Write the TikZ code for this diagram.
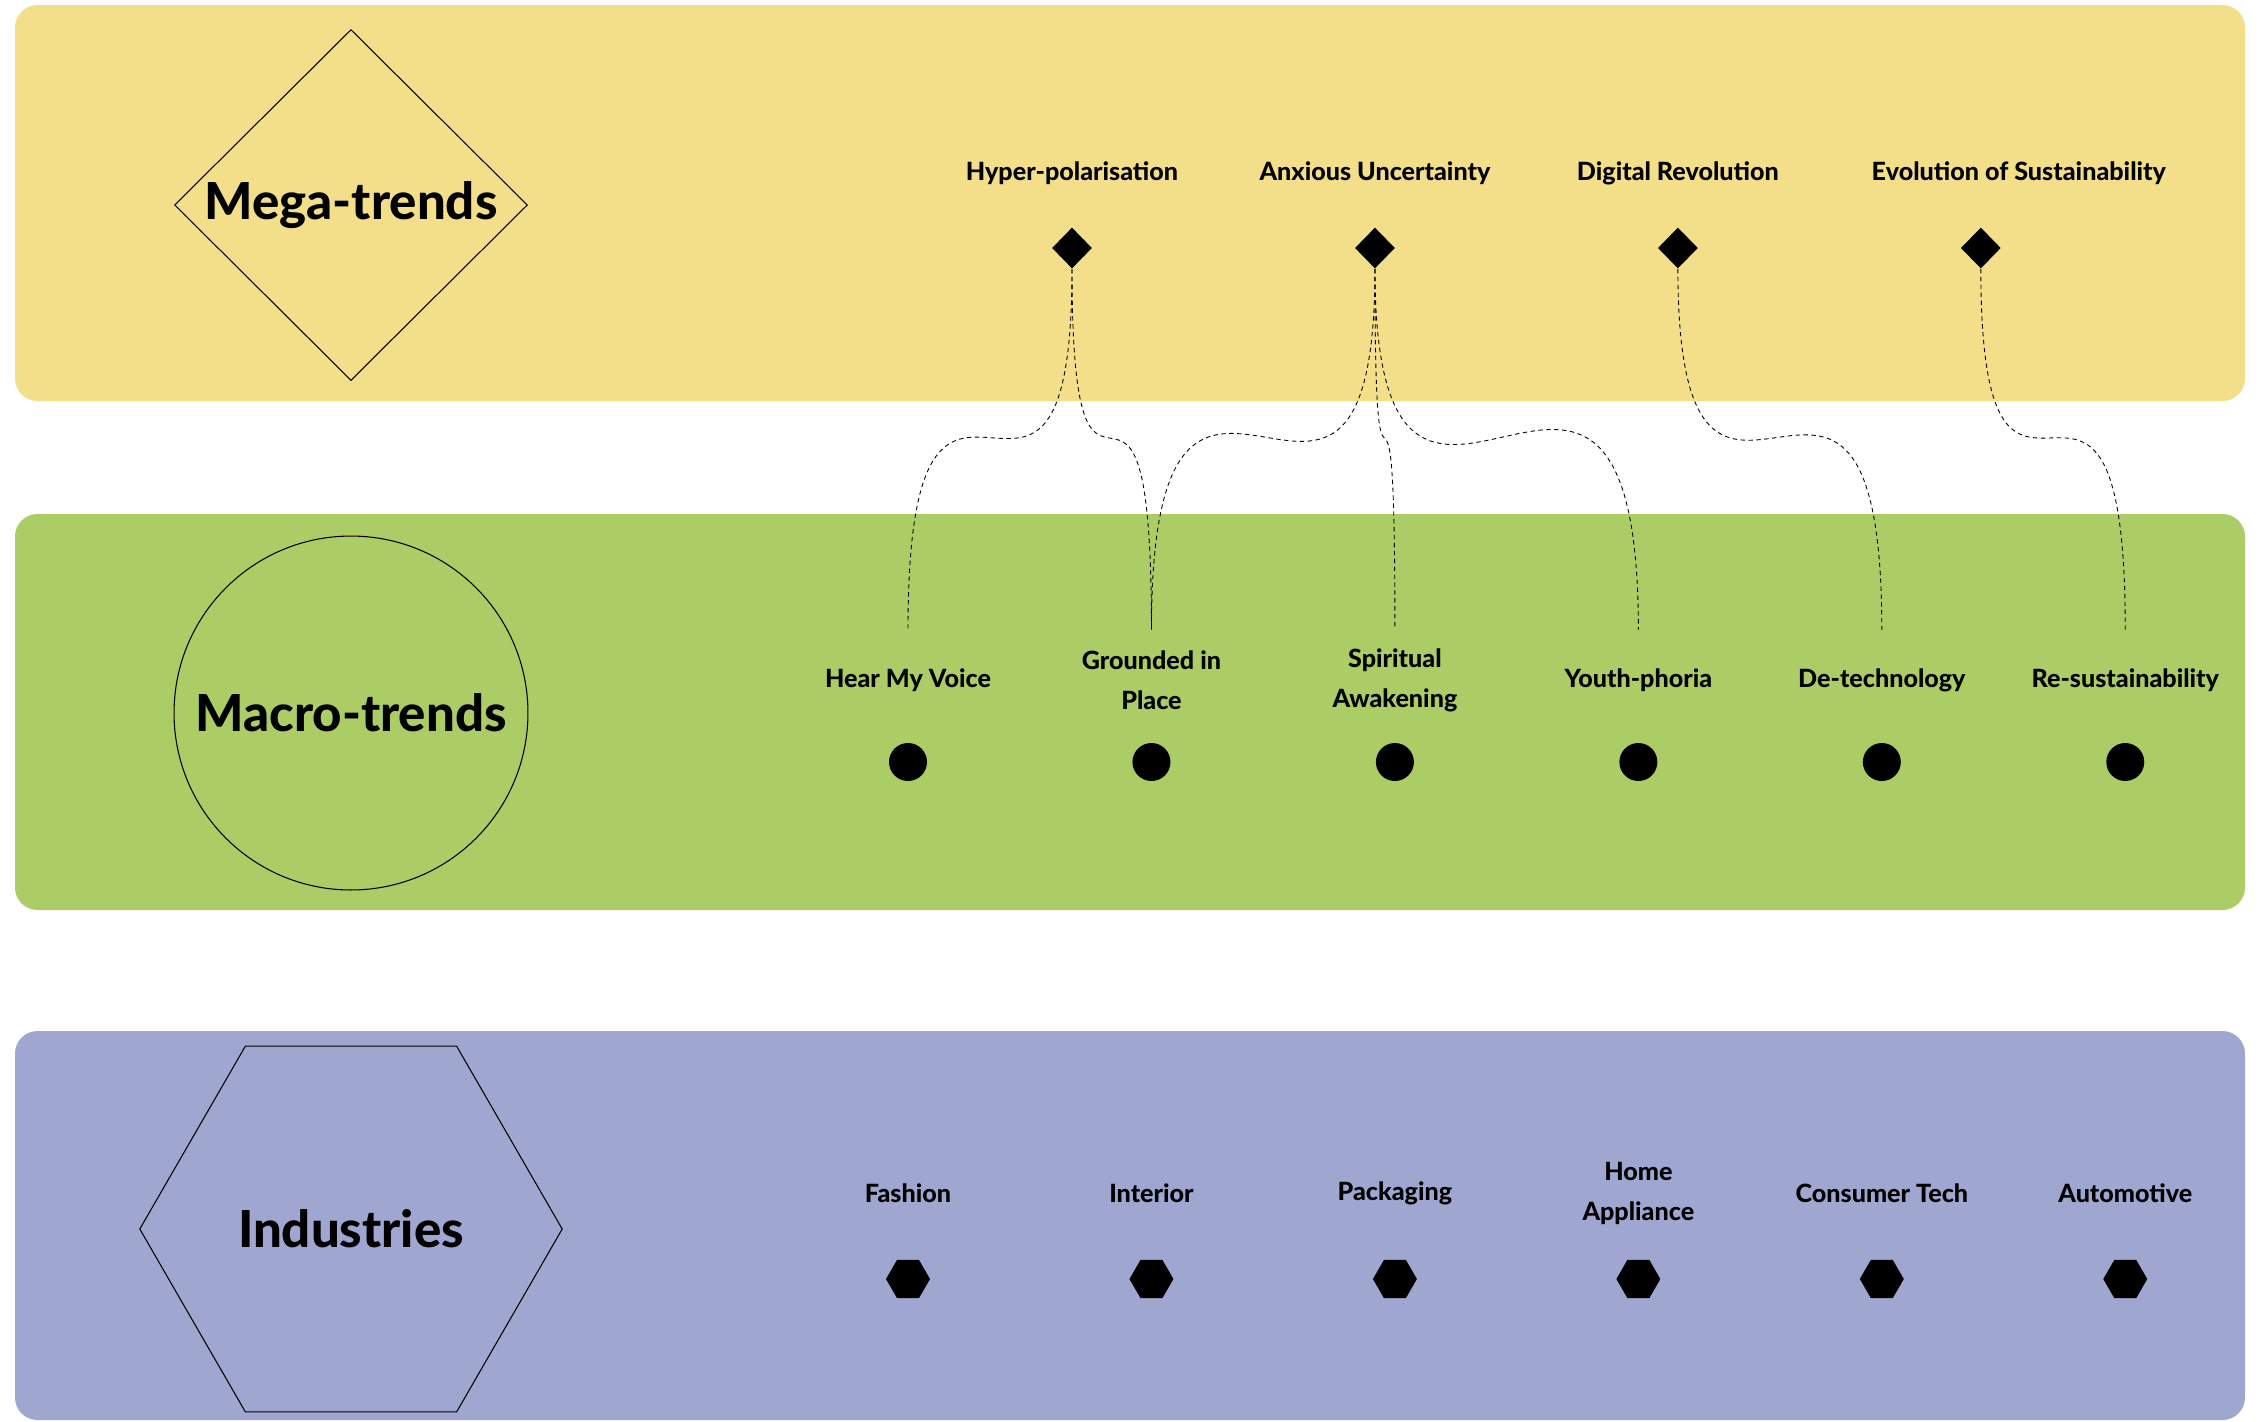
\documentclass[tikz,border=0pt]{standalone}
\usepackage{fontspec}
\setmainfont{Lato}[BoldFont={Lato Heavy}]
\usetikzlibrary{positioning,shapes.geometric}
\definecolor{megafill}{RGB}{243,223,138}
\definecolor{macrofill}{RGB}{172,204,102}
\definecolor{indfill}{RGB}{159,167,209}
\tikzset{bigshape/.style={draw=black, line width=0.6pt, inner sep=0pt, font=\fontsize{29}{32}\selectfont\bfseries}}
\tikzset{megamark/.style={shape=diamond, fill=black, minimum width=0.8cm, minimum height=0.82cm, inner sep=0pt}}
\tikzset{macromark/.style={shape=circle, fill=black, minimum size=0.76cm, inner sep=0pt}}
\tikzset{indmark/.style={shape=regular polygon, regular polygon sides=6, fill=black, minimum size=0.88cm, inner sep=0pt}}
\tikzset{trendlabel/.style={font=\fontsize{14.3}{22.7}\selectfont\bfseries, align=center, inner sep=0pt}}
\tikzset{macrolabel/.style={trendlabel, minimum height=2cm}}
\tikzset{link/.style={line width=0.5pt, dash pattern=on 2.5pt off 2pt, out=-90, in=90, out looseness=2.3, in looseness=2.5}}

\begin{document}
\begin{tikzpicture}[x=0.02cm, y=-0.02cm, on grid]
\useasboundingbox (0,0) rectangle (2259,1421);
%Bands
\fill[megafill, rounded corners=0.45cm] (15,5) rectangle (2245,401);
\fill[macrofill, rounded corners=0.45cm] (15,514) rectangle (2245,910);
\fill[indfill, rounded corners=0.45cm] (15,1031) rectangle (2245,1420);
%Nodes
\node[bigshape, shape=diamond, aspect=1, minimum width=7.06cm, minimum height=7.02cm] (mega) at (351,205) {Mega-trends};
\node[bigshape, shape=circle, minimum size=7.08cm] (macro) at (351,713) {Macro-trends};
\node[bigshape, shape=regular polygon, regular polygon sides=6, minimum size=8.45cm] (ind) at (351,1229) {Industries};

\node[megamark] (hp) at (1072,248) {};
\node[megamark] (au) [right=6.06cm of hp] {};
\node[megamark] (dr) [right=6.06cm of au] {};
\node[megamark] (es) [right=6.06cm of dr] {};
\node[trendlabel] (hplab) [above=1.5cm of hp] {Hyper-polarisation};
\node[trendlabel] (aulab) [above=1.5cm of au] {Anxious Uncertainty};
\node[trendlabel] (drlab) [above=1.5cm of dr] {Digital Revolution};
\node[trendlabel] (eslab) [above=1.5cm of es, xshift=0.76cm] {Evolution of Sustainability};

\node[macromark] (voice) at (908,762) {};
\node[macromark] (place) [right=4.87cm of voice] {};
\node[macromark] (spirit) [right=4.87cm of place] {};
\node[macromark] (youth) [right=4.87cm of spirit] {};
\node[macromark] (detech) [right=4.87cm of youth] {};
\node[macromark] (resus) [right=4.87cm of detech] {};
\node[macrolabel] (voicelab) [above=1.64cm of voice] {Hear My Voice};
\node[macrolabel] (placelab) [above=1.64cm of place] {Grounded in\\Place};
\node[macrolabel] (spiritlab) [above=1.64cm of spirit] {Spiritual\\Awakening};
\node[macrolabel] (youthlab) [above=1.64cm of youth] {Youth-phoria};
\node[macrolabel] (detechlab) [above=1.64cm of detech] {De-technology};
\node[macrolabel] (resuslab) [above=1.64cm of resus] {Re-sustainability};

\node[indmark] (fashion) at (908,1279) {};
\node[indmark] (interior) [right=4.87cm of fashion] {};
\node[indmark] (packaging) [right=4.87cm of interior] {};
\node[indmark] (home) [right=4.87cm of packaging] {};
\node[indmark] (tech) [right=4.87cm of home] {};
\node[indmark] (auto) [right=4.87cm of tech] {};
\node[trendlabel] (fashionlab) [above=1.72cm of fashion] {Fashion};
\node[trendlabel] (interiorlab) [above=1.72cm of interior] {Interior};
\node[trendlabel] (packaginglab) [above=1.72cm of packaging] {Packaging};
\node[trendlabel] (homelab) [above=1.72cm of home] {Home\\Appliance};
\node[trendlabel] (techlab) [above=1.72cm of tech] {Consumer Tech};
\node[trendlabel] (autolab) [above=1.72cm of auto] {Automotive};
%Lines
\draw[link] (hp) to (voicelab);
\draw[link] (hp) to (placelab);
\draw[link] (au) to (placelab);
\draw[link] (au) to (spiritlab);
\draw[link] (au) to (youthlab);
\draw[link] (dr) to (detechlab);
\draw[link] (es) to (resuslab);
\end{tikzpicture}
\end{document}
